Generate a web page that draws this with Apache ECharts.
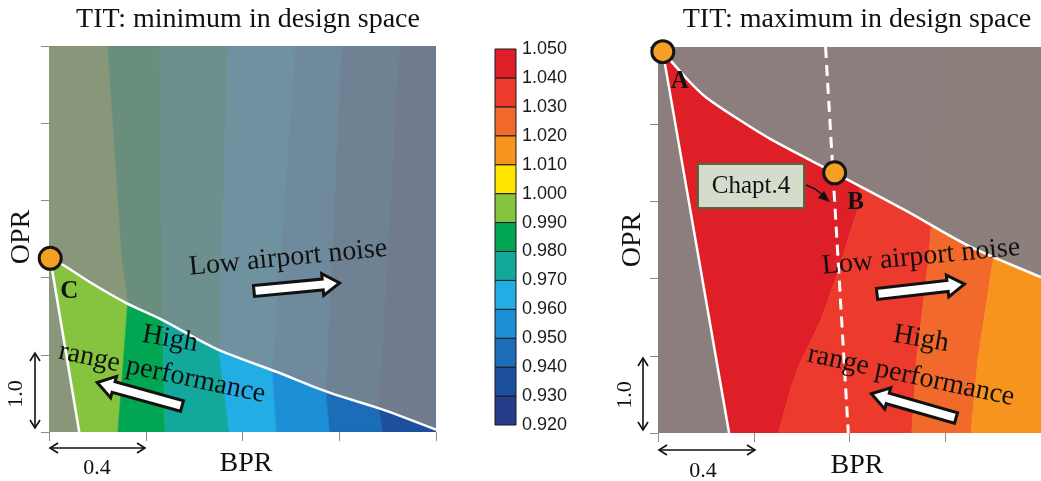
<!DOCTYPE html>
<html><head><meta charset="utf-8">
<script src="https://cdn.jsdelivr.net/npm/echarts@6/dist/echarts.min.js"></script>
<style>html,body{margin:0;padding:0;background:#fff}#c{width:1041px;height:481px}</style>
</head><body><div id="c"></div>
<script>
// ---- data ----
const bprTicks = [0, 0.4, 0.8, 1.2, 1.6];          // relative BPR (one step = 0.4)
const oprTicks = [0, 1, 2, 3, 4, 5];               // relative OPR (one step = 1.0)
const colorbarLevels = [0.920,0.930,0.940,0.950,0.960,0.970,0.980,0.990,1.000,1.010,1.020,1.030,1.040,1.050];
const levelColors = ['#263B8A','#1E4E9E','#1B6DB7','#1C8FD6','#22ADE4','#12A99C','#00A651','#86C440','#FFE500','#F7941E','#F16A2B','#EC3B2C','#DE1F28'];

// left panel (TIT minimum): contour bands (lower level of each band, from low BPR to high BPR)
const leftBandValues = [0.99, 0.98, 0.97, 0.96, 0.95, 0.94, 0.93];
const leftBandEdges = [
  [[0.285,0],[0.326,1.69],[0.30,2.3],[0.243,5]],
  [[0.48,0],[0.47,1.48],[0.46,5]],
  [[0.746,0],[0.705,1.03],[0.74,5]],
  [[0.94,0],[0.924,0.78],[1.02,5]],
  [[1.16,0],[1.146,0.52],[1.21,5]],
  [[1.38,0],[1.365,0.3],[1.45,5]]
];
const leftLowerLine = [[0.005,2.25],[0.125,0]];
const leftUpperCurve = [[0.005,2.25],[0.06,2.16],[0.18,1.92],[0.32,1.67],[0.47,1.45],[0.69,1.08],[0.94,0.78],[1.16,0.51],[1.38,0.29],[1.6,0.03]];
const pointC = [0.005,2.25];

// right panel (TIT maximum)
const rightBandValues = [1.04, 1.03, 1.02, 1.01];
const rightBandEdges = [
  [[0.503,0],[0.557,0.6],[0.586,0.855],[0.68,1.46],[0.74,1.98],[0.833,2.89],[0.9,5]],
  [[1.06,0],[1.08,0.95],[1.13,2.24],[1.2,5]],
  [[1.307,0],[1.336,0.95],[1.40,2.24],[1.45,5]]
];
const rightLowerLine = [[0.02,4.94],[0.297,0]];
const rightUpperCurve = [[0.02,4.94],[0.132,4.55],[0.2,4.35],[0.338,4.06],[0.474,3.80],[0.738,3.37],[1.03,2.89],[1.30,2.42],[1.575,2.05],[1.6,2.02]];
const chapterLine = [[0.70,5],[0.795,0]];
const pointA = [0.02,4.94];
const pointB = [0.738,3.37];

// ---- chart ----
const SERIF = "'Liberation Serif','Times New Roman',serif";
const SANS = "'Liberation Sans Narrow','Arial Narrow','Liberation Sans',Arial,sans-serif";
const BMIN = bprTicks[0], BMAX = bprTicks[bprTicks.length-1];
const OMIN = oprTicks[0], OMAX = oprTicks[oprTicks.length-1];
function colorOf(v){ return levelColors[Math.round((v - colorbarLevels[0]) / 0.01)]; }

function bandSeries(gi, values, edges){
  return {
    type:'custom', xAxisIndex:gi, yAxisIndex:gi, clip:true, silent:true, z:1,
    data: values.map((v,i)=>[i, v]),
    renderItem(params, api){
      const i = api.value(0);
      const left = i===0 ? [[BMIN,OMIN],[BMIN,OMAX]] : edges[i-1];
      const right = i===values.length-1 ? [[BMAX,OMIN],[BMAX,OMAX]] : edges[i];
      const pts = left.concat(right.slice().reverse()).map(p=>api.coord(p));
      const c = colorOf(values[i]);
      return {type:'polygon', shape:{points:pts}, style:{fill:c, stroke:c, lineWidth:0.6}};
    }
  };
}
function maskSeries(gi, lower, upper, fill){
  const poly = [[BMIN,OMIN], lower[lower.length-1]].concat(lower.slice(0,-1).reverse())
    .concat(upper.slice(1)).concat([[BMAX,OMAX],[BMIN,OMAX]]);
  return {
    type:'custom', xAxisIndex:gi, yAxisIndex:gi, clip:true, silent:true, z:2,
    data:[[0,0]],
    renderItem(params, api){
      return {type:'polygon', shape:{points: poly.map(p=>api.coord(p))}, style:{fill}};
    }
  };
}
function lineSeries(gi, pts, extra){
  return Object.assign({type:'line', xAxisIndex:gi, yAxisIndex:gi, data:pts, symbol:'none', silent:true, z:5,
    lineStyle:{color:'#fff', width:2.5}}, extra||{});
}
function pointSeries(gi, items){
  return {type:'scatter', xAxisIndex:gi, yAxisIndex:gi, clip:false, silent:true, z:8, symbolSize:22,
    itemStyle:{color:'#F4A024', borderColor:'#151515', borderWidth:3, opacity:1},
    data: items.map(it=>({name:it.name, value:it.value, label:{show:true, formatter:'{b}', position:'inside', offset:it.offset,
      color:'#111', fontFamily:SERIF, fontSize:25, fontWeight:'bold'}}))
  };
}
function panelAxes(){
  return {
    x: {type:'value', min:BMIN, max:BMAX, interval:bprTicks[1]-bprTicks[0], axisLabel:{show:false}, axisLine:{show:false},
        axisTick:{show:true, length:9, lineStyle:{color:'#8a8a8a', width:1}}, splitLine:{show:false}},
    y: {type:'value', min:OMIN, max:OMAX, interval:oprTicks[1]-oprTicks[0], axisLabel:{show:false}, axisLine:{show:false},
        axisTick:{show:true, length:8, lineStyle:{color:'#8a8a8a', width:1}}, splitLine:{show:false}}
  };
}
const ax0 = panelAxes(), ax1 = panelAxes();
const cbLevels = colorbarLevels.map(v=>Math.round(v*1000));

function txt(x,y,text,size,rotDeg,bold){
  return {type:'text', x, y, rotation:(rotDeg||0)*Math.PI/180, z:100,
    style:{text, fill:'#111', font:(bold?'bold ':'')+size+'px '+SERIF, textAlign:'center', textVerticalAlign:'middle', align:'center', verticalAlign:'middle'}};
}
function blockArrow(x,y,len,deg){
  const hh=11, sh=5.5, hl=17;
  return {type:'polygon', x, y, rotation:deg*Math.PI/180, z:90,
    shape:{points:[[0,-sh],[len-hl,-sh],[len-hl,-hh],[len,0],[len-hl,hh],[len-hl,sh],[0,sh]]},
    style:{fill:'#fff', stroke:'#111', lineWidth:3, lineJoin:'miter'}};
}
const dimStyle = {stroke:'#111', lineWidth:1.6, fill:null};
function dimH(x1,x2,y){
  return [
    {type:'polyline', z:90, shape:{points:[[x1,y],[x2,y]]}, style:dimStyle},
    {type:'polyline', z:90, shape:{points:[[x1+8,y-5],[x1,y],[x1+8,y+5]]}, style:dimStyle},
    {type:'polyline', z:90, shape:{points:[[x2-8,y-5],[x2,y],[x2-8,y+5]]}, style:dimStyle}
  ];
}
function dimV(x,y1,y2){
  return [
    {type:'polyline', z:90, shape:{points:[[x,y1],[x,y2]]}, style:dimStyle},
    {type:'polyline', z:90, shape:{points:[[x-5,y1+8],[x,y1],[x+5,y1+8]]}, style:dimStyle},
    {type:'polyline', z:90, shape:{points:[[x-5,y2-8],[x,y2],[x+5,y2-8]]}, style:dimStyle}
  ];
}

const graphics = [
  txt(248,20,'TIT: minimum in design space',28),
  txt(857,20,'TIT: maximum in design space',28),
  txt(246,464,'BPR',28), txt(857,466,'BPR',28),
  txt(22,237,'OPR',28,90), txt(633,240,'OPR',28,90),
  txt(97,468,'0.4',22), txt(703,471,'0.4',22),
  txt(16,394,'1.0',22,90), txt(625,395,'1.0',22,90),
  ...dimH(50,145,448), ...dimV(35,353,428),
  ...dimH(659,755,450), ...dimV(643,358,430),
  // left annotations
  txt(288,258,'Low airport noise',28,5.5),
  blockArrow(254,291,86,5.4),
  txt(170,339,'High',28,-10),
  txt(162,373,'range performance',28,-12),
  blockArrow(182,406,88,164.5),
  // right annotations
  txt(921,257,'Low airport noise',28,5.5),
  blockArrow(877,294,88,6.5),
  txt(921,339,'High',28,-10),
  txt(911,376,'range performance',28,-12),
  blockArrow(956,418,88,164),
  // Chapt.4 box
  {type:'rect', z:95, shape:{x:698,y:164,width:106,height:44}, style:{fill:'#D5DCCB', stroke:'#4D6A40', lineWidth:2}},
  txt(751,186,'Chapt.4',25),
  {type:'polyline', z:95, shape:{points:[[806,185],[815,189],[824,196]]}, style:{stroke:'#111', lineWidth:1.5, fill:null}},
  {type:'polygon', z:95, shape:{points:[[830,202],[818,198],[824,191]]}, style:{fill:'#111'}}
];

const option = {
  animation:false,
  backgroundColor:'#fff',
  grid:[
    {left:49, top:46, width:387, height:386},
    {left:658, top:47, width:388, height:386},
    {left:495, top:49, width:21, height:376}
  ],
  xAxis:[
    Object.assign({gridIndex:0}, ax0.x),
    Object.assign({gridIndex:1}, ax1.x),
    {gridIndex:2, type:'value', min:0, max:1, show:false}
  ],
  yAxis:[
    Object.assign({gridIndex:0}, ax0.y),
    Object.assign({gridIndex:1}, ax1.y),
    {gridIndex:2, type:'value', position:'right', min:cbLevels[0], max:cbLevels[cbLevels.length-1], interval:cbLevels[1]-cbLevels[0],
     axisLine:{show:false}, axisTick:{show:false}, splitLine:{show:false},
     axisLabel:{show:true, margin:6, color:'#1a1a1a', fontFamily:SANS, fontSize:18, formatter:v=>(v/1000).toFixed(3)}}
  ],
  series:[
    bandSeries(0, leftBandValues, leftBandEdges),
    maskSeries(0, leftLowerLine, leftUpperCurve, 'rgba(136,136,138,0.77)'),
    lineSeries(0, leftLowerLine),
    lineSeries(0, leftUpperCurve, {smooth:0.3}),
    pointSeries(0, [{name:'C', value:pointC, offset:[19,33]}]),

    bandSeries(1, rightBandValues, rightBandEdges),
    maskSeries(1, rightLowerLine, rightUpperCurve, 'rgba(138,127,125,0.99)'),
    lineSeries(1, rightLowerLine),
    lineSeries(1, rightUpperCurve, {smooth:0.3}),
    lineSeries(1, chapterLine, {z:6, lineStyle:{color:'#fff', width:3, type:[11,7]}}),
    pointSeries(1, [{name:'A', value:pointA, offset:[17,30]}, {name:'B', value:pointB, offset:[21,30]}]),

    {type:'custom', xAxisIndex:2, yAxisIndex:2, silent:true, clip:false, z:3,
     data: cbLevels.slice(0,-1).map((v,i)=>[0, v, cbLevels[i+1]]),
     renderItem(params, api){
       const lo = api.value(1), hi = api.value(2);
       const p0 = api.coord([0, hi]), p1 = api.coord([1, lo]);
       return {type:'rect', shape:{x:p0[0], y:p0[1], width:p1[0]-p0[0], height:p1[1]-p0[1]},
               style:{fill: levelColors[params.dataIndex], stroke:'#1a1a1a', lineWidth:1}};
     }}
  ],
  graphic: graphics
};
const chart = echarts.init(document.getElementById('c'));
chart.setOption(option);
</script></body></html>
